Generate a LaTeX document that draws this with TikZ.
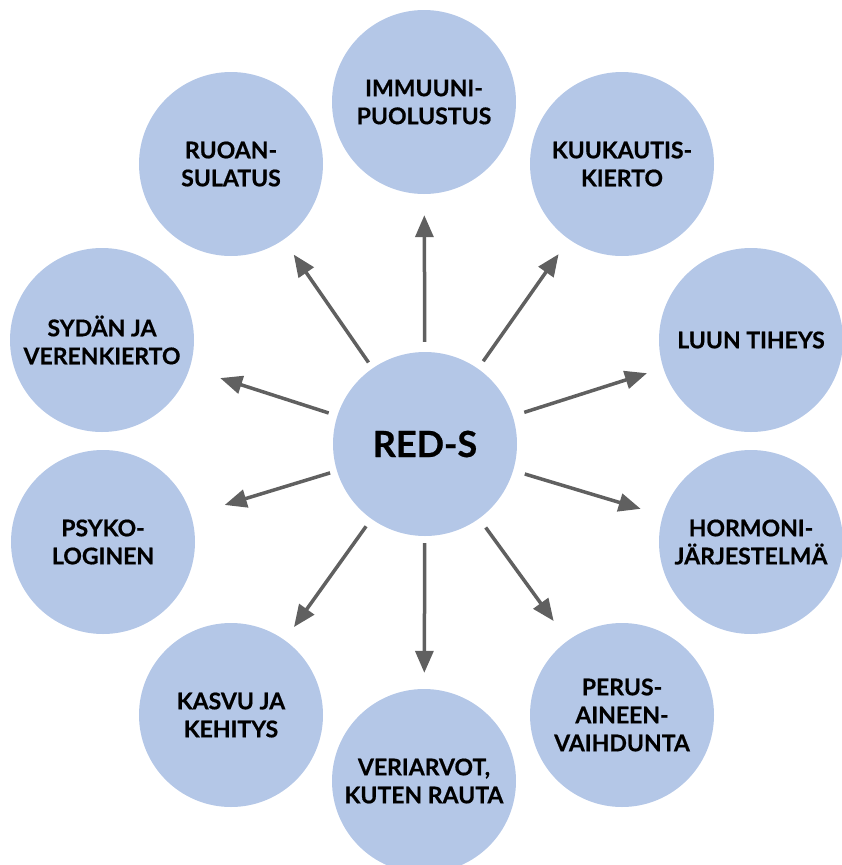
\documentclass[tikz,border=0pt]{standalone}
\usepackage{fontspec}
\setmainfont{Lato}[BoldFeatures={FakeBold=0.6}]
\usetikzlibrary{arrows.meta}
\definecolor{circblue}{HTML}{B4C7E7}
\definecolor{arrgray}{HTML}{606060}
\tikzset{
  bubble/.style={circle, fill=circblue, draw=none, minimum size=184pt, inner sep=0pt,
    align=center, font=\fontsize{23}{28}\selectfont\bfseries},
  hub/.style={bubble, font=\fontsize{36}{40}\selectfont\bfseries},
  link/.style={draw=arrgray, line width=3.5pt, -{Triangle[length=22pt,width=18pt]}}
}
\begin{document}
\begin{tikzpicture}[x=1pt,y=-1pt]
\useasboundingbox (0,0) rectangle (842,865);
\node[hub] (c) at (425,444) {RED-S};
\node[bubble] (imm) at (424,102) {IMMUUNI-\\PUOLUSTUS};
\node[bubble] (kuu) at (622,164) {KUUKAUTIS-\\KIERTO};
\node[bubble] (luu) at (751,340) {LUUN TIHEYS};
\node[bubble] (hor) at (751,542) {HORMONI-\\JÄRJESTELMÄ};
\node[bubble] (per) at (622,715) {PERUS-\\AINEEN-\\VAIHDUNTA};
\node[bubble] (ver) at (424,781) {VERIARVOT,\\KUTEN RAUTA};
\node[bubble] (kas) at (231,715) {KASVU JA\\KEHITYS};
\node[bubble] (psy) at (103,542) {PSYKO-\\LOGINEN};
\node[bubble] (syd) at (102,340) {SYDÄN JA\\VERENKIERTO};
\node[bubble] (ruo) at (231,164) {RUOAN-\\SULATUS};
\draw[link, shorten <=10pt, shorten >=21pt] (c) -- (imm);
\draw[link, shorten <=9pt, shorten >=18pt] (c) -- (kuu);
\draw[link, shorten <=12pt, shorten >=17pt] (c) -- (luu);
\draw[link, shorten <=12pt, shorten >=23pt] (c) -- (hor);
\draw[link, shorten <=11pt, shorten >=24pt] (c) -- (per);
\draw[link, shorten <=7pt, shorten >=16pt] (c) -- (ver);
\draw[link, shorten <=9pt, shorten >=16pt] (c) -- (kas);
\draw[link, shorten <=7pt, shorten >=35pt] (c) -- (psy);
\draw[link, shorten <=9pt, shorten >=32pt] (c) -- (syd);
\draw[link, shorten <=7pt, shorten >=18pt] (c) -- (ruo);
\end{tikzpicture}
\end{document}
